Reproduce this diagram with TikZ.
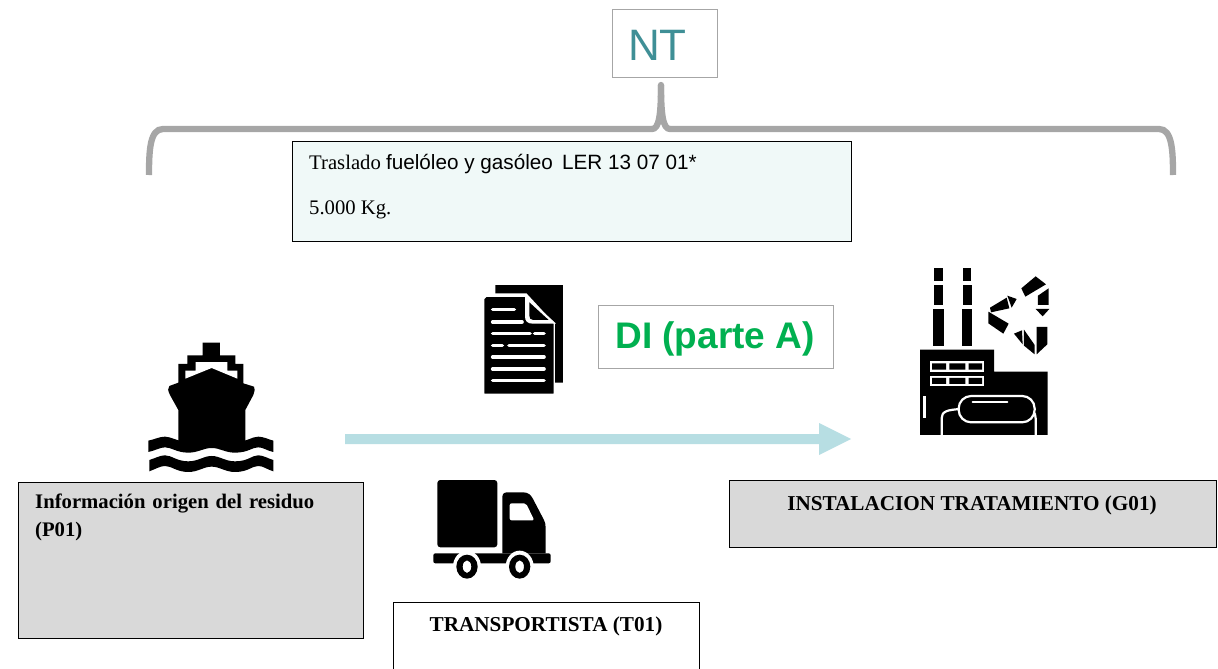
\documentclass[tikz,border=0pt]{standalone}
\usepackage{fontspec}
\setmainfont{Liberation Serif}
\newfontfamily\arialf{Liberation Sans}
\definecolor{bracegrey}{HTML}{A6A6A6}
\definecolor{boxgrey}{HTML}{D9D9D9}
\definecolor{palemint}{HTML}{F0F9F8}
\definecolor{tealtxt}{HTML}{3F8F96}
\definecolor{greentxt}{HTML}{00B050}
\definecolor{arrowblue}{HTML}{B7DEE3}
\tikzset{
 blackbox/.style={draw=black,line width=0.9pt,inner sep=0pt},
 greybox/.style={draw=bracegrey,line width=1pt,fill=white,inner sep=0pt},
 lbl/.style={font=\fontsize{20.7}{28}\selectfont\bfseries,align=left,anchor=north west,inner sep=0pt},
 titlelbl/.style={font=\fontsize{21.2}{25}\selectfont\bfseries,inner sep=0pt},
 bodylbl/.style={anchor=west,inner sep=0pt,font=\fontsize{20.7}{25}\selectfont},
 bracepath/.style={bracegrey,line width=6.3pt,line cap=butt},
}
\begin{document}
\begin{tikzpicture}[x=1pt,y=-1pt]
\useasboundingbox (0,0) rectangle (1218,669);
% brace
\draw[bracepath] (149,175) .. controls (149,150) and (150,129) .. (163,129) -- (652,129) .. controls (659,129) and (661,115) .. (661,85);
\draw[bracepath] (1173,175) .. controls (1173,150) and (1172,129) .. (1159,129) -- (670,129) .. controls (663,129) and (661,115) .. (661,85);
\fill[bracegrey] (661,85) circle[radius=3.15];
% boxes
\node[greybox,minimum width=105pt,minimum height=68pt] (nt) at (664.5,44) {};
\node[inner sep=0pt,anchor=west,font=\arialf\fontsize{44}{50}\selectfont,text=tealtxt] (ntt) at (628,45) {NT};
\node[blackbox,fill=palemint,minimum width=559pt,minimum height=100pt] (load) at (571.5,191) {};
\node[bodylbl] (l1) at (309,164) {Traslado {\arialf fuelóleo y gasóleo\, LER 13 07 01*}};
\node[bodylbl] (l2) at (309,210) {5.000 Kg.};
\node[greybox,minimum width=235pt,minimum height=63pt] (di) at (715.5,336.5) {};
\node[inner sep=0pt,font=\arialf\fontsize{37}{42}\selectfont\bfseries,text=greentxt] (dit) at (715,339) {DI (parte A)};
\node[blackbox,fill=boxgrey,minimum width=345pt,minimum height=156pt] (p01) at (190.5,560) {};
\node[lbl,text width=300pt] (p01t) at (35,494) {Información origen del residuo\\(P01)};
\node[blackbox,fill=boxgrey,minimum width=487pt,minimum height=67pt] (g01) at (972.5,513.5) {};
\node[titlelbl] (g01t) at (972,505) {INSTALACION TRATAMIENTO (G01)};
\draw[black,line width=0.9pt,fill=white] (393,672) -- (393,602) -- (699,602) -- (699,672);
\node[titlelbl] (t01t) at (546,626) {TRANSPORTISTA (T01)};
% arrow
\coordinate (as) at (345,439);
\coordinate (ae) at (851,439);
\fill[arrowblue] (as)++(0,-5) -- (819,434) -- (819,423) -- (ae) -- (819,455) -- (819,444) -- (345,444) -- cycle;
% ship
\begin{scope}[shift={(130,330)},x=0.3333pt,y=-0.3333pt]
\fill[black] (218,38) -- (270,38) -- (270,76) -- (316,76) -- (316,102) -- (340,102) -- (340,160) -- (372,170) .. controls (376,175) and (374,182) .. (370,195) -- (346,240) -- (346,350) -- (145,350) -- (145,240) -- (120,195) .. controls (114,182) and (112,175) .. (118,168) -- (145,158) -- (145,102) -- (172,102) -- (172,76) -- (218,76) -- cycle;
\fill[white] (166,146) -- (166,122) -- (197,122) -- (197,96) -- (292,96) -- (292,122) -- (322,122) -- (322,146) -- (245,114) -- cycle;
\fill[black] (55,332) .. controls (75,328) and (88,320) .. (105,320) .. controls (125,320) and (140,335) .. (175,335) .. controls (205,335) and (220,322) .. (245,322) .. controls (270,322) and (285,335) .. (315,335) .. controls (355,335) and (365,320) .. (385,320) .. controls (400,320) and (415,328) .. (430,332) -- (430,366) .. controls (410,362) and (400,352) .. (385,352) .. controls (365,352) and (355,368) .. (315,368) .. controls (285,368) and (270,354) .. (245,354) .. controls (220,354) and (205,368) .. (175,368) .. controls (140,368) and (125,352) .. (105,352) .. controls (90,352) and (75,362) .. (55,366) -- cycle;
\fill[black] (58,390) .. controls (75,385) and (90,376) .. (105,376) .. controls (125,376) and (140,394) .. (175,394) .. controls (205,394) and (220,378) .. (245,378) .. controls (270,378) and (285,394) .. (315,394) .. controls (355,394) and (365,376) .. (385,376) .. controls (400,376) and (415,386) .. (430,390) -- (430,424) .. controls (410,418) and (400,408) .. (385,408) .. controls (365,408) and (355,426) .. (315,426) .. controls (285,426) and (270,410) .. (245,410) .. controls (220,410) and (205,426) .. (175,426) .. controls (140,426) and (125,408) .. (105,408) .. controls (90,408) and (75,418) .. (58,424) -- cycle;
\end{scope}
% document
\begin{scope}[shift={(470,275)},x=0.3333pt,y=-0.3333pt]
\fill[black] (76,30) -- (279,30) -- (279,323) -- (253,323) -- (253,145) -- (170,55) -- (76,55) -- cycle;
\fill[black,draw=white,line width=1.3pt] (48,64) -- (165,64) -- (253,145) -- (253,358) -- (41,358) -- (41,71) -- cycle;
\fill[white] (165,60) -- (258,146) -- (188,146) .. controls (172,146) and (165,138) .. (165,124) -- cycle;
\fill[black] (178,82) -- (236,135) -- (190,135) .. controls (182,135) and (178,130) .. (178,122) -- cycle;
\draw[white,line width=3.6pt,line cap=round]
 (68,103) -- (133,103) (68,141) -- (156,141) (68,176) -- (180,176) (194,176) -- (222,176)
 (68,211) -- (97,211) (117,211) -- (222,211) (68,246) -- (222,246) (68,282) -- (222,282) (68,317) -- (222,317);
\end{scope}
% truck
\begin{scope}[shift={(420,470)},x=0.3333pt,y=-0.3333pt]
\fill[black,rounded corners=3pt] (52,30) -- (232,30) -- (232,232) -- (52,232) -- cycle;
\fill[black] (247,250) -- (247,82) .. controls (247,72) and (252,67) .. (262,67) -- (310,67) .. controls (325,67) and (332,75) .. (338,85) -- (372,150) .. controls (376,158) and (377,165) .. (377,175) -- (377,250) -- cycle;
\fill[white,rounded corners=2pt] (269,100) -- (318,100) -- (343,151) -- (269,151) -- cycle;
\fill[black,rounded corners=2pt] (40,250) -- (392,250) -- (392,280) -- (40,280) -- cycle;
\fill[white] (141,290) ellipse[x radius=42,y radius=48];
\fill[white] (299,290) ellipse[x radius=42,y radius=48];
\fill[black,even odd rule] (141,290) ellipse[x radius=32,y radius=36] (141,290) ellipse[x radius=13,y radius=19];
\fill[black,even odd rule] (299,290) ellipse[x radius=32,y radius=36] (299,290) ellipse[x radius=13,y radius=19];
\end{scope}
% factory
\begin{scope}[shift={(890,255)},x=0.3333pt,y=-0.3333pt]
\fill[black] (132,40) rectangle (158,78);
\fill[black] (132,90) rectangle (159,150);
\fill[black] (129,162) rectangle (161,272);
\fill[black] (218,40) rectangle (244,78);
\fill[black] (218,90) rectangle (245,150);
\fill[black] (215,162) rectangle (247,272);
\fill[black] (90,284) -- (312,284) -- (312,350) -- (473,350) -- (473,540) -- (90,540) -- cycle;
\fill[white] (120,318) rectangle (281,350);
\fill[white] (120,362) rectangle (281,393);
\fill[black] (126,325) rectangle (168,344) (178,325) rectangle (226,344) (236,325) rectangle (276,344);
\fill[black] (126,369) rectangle (168,387) (178,369) rectangle (226,387) (236,369) rectangle (276,387);
\fill[white] (100,422) rectangle (108,488);
\draw[white,line width=2.2pt] (155,540) -- (155,490) .. controls (155,470) and (170,464) .. (215,462);
\draw[white,line width=2.2pt] (437,540) -- (437,490) .. controls (437,470) and (425,464) .. (415,462);
\draw[white,line width=2.2pt,fill=black,rounded corners=12.5pt] (206,423) -- (434,423) -- (434,502) -- (206,502) -- cycle;
\draw[white,line width=2.2pt,line cap=round] (248,441) -- (352,441);
% recycling arrows
\fill[black] (394,100) -- (437,64) -- (468,88) -- (406,125) -- cycle;
\fill[black] (444,122) -- (476,100) -- (476,150) -- (444,150) -- cycle;
\fill[black] (437,162) -- (478,162) -- (458,184) -- cycle;
\fill[black] (300,158) -- (350,128) -- (358,160) -- (303,172) -- cycle;
\fill[black] (352,122) -- (380,132) -- (365,158) -- cycle;
\fill[black] (295,170) -- (356,206) -- (340,236) -- (295,205) -- cycle;
\fill[black] (372,236) -- (396,226) -- (398,268) -- cycle;
\fill[black] (402,224) -- (434,270) -- (434,298) -- (402,272) -- cycle;
\fill[black] (440,216) -- (472,216) -- (472,268) -- (440,298) -- cycle;
\end{scope}
\end{tikzpicture}
\end{document}
